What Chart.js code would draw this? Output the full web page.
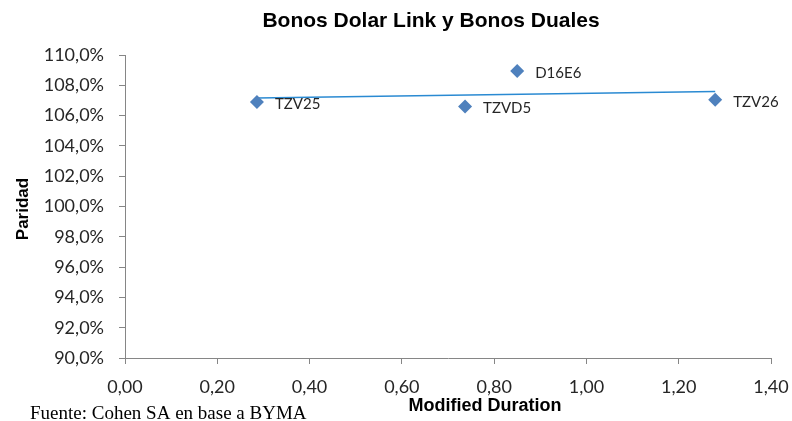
<!DOCTYPE html>
<html>
<head>
<meta charset="utf-8">
<script src="https://cdn.jsdelivr.net/npm/chart.js@4.4.1/dist/chart.umd.min.js"></script>
<style>
  html, body { margin: 0; padding: 0; background: #fff; }
  #wrap { width: 792px; height: 421px; position: relative; }
</style>
</head>
<body>
<div id="wrap"><canvas id="bondChart"></canvas></div>
<script>
// Bond data
const bondNames = ['TZV25', 'TZVD5', 'D16E6', 'TZV26'];
const modDuration = [0.286, 0.737, 0.85, 1.279];
const paridad = [106.9, 106.6, 108.95, 107.05];

const chartTitle = 'Bonos Dolar Link y Bonos Duales';
const xTitle = 'Modified Duration';
const yTitle = 'Paridad';
const sourceNote = 'Fuente: Cohen SA en base a BYMA';

// Linear trendline (least squares) over the points
function linearFit(xs, ys) {
  const n = xs.length;
  const mx = xs.reduce((a, b) => a + b, 0) / n;
  const my = ys.reduce((a, b) => a + b, 0) / n;
  let num = 0, den = 0;
  for (let i = 0; i < n; i++) {
    num += (xs[i] - mx) * (ys[i] - my);
    den += (xs[i] - mx) * (xs[i] - mx);
  }
  const slope = num / den;
  return x => my + slope * (x - mx);
}
const fit = linearFit(modDuration, paridad);
const xMin = Math.min(...modDuration);
const xMax = Math.max(...modDuration);
const trendPoints = [{ x: xMin, y: fit(xMin) }, { x: xMax, y: fit(xMax) }];

const points = modDuration.map((x, i) => ({ x, y: paridad[i] }));

const AXIS_COLOR = '#868686';
const TEXT_COLOR = '#262626';

// Point labels and the free texts (title, axis titles, source)
const textPlugin = {
  id: 'texts',
  afterDatasetsDraw(chart) {
    const ctx = chart.ctx;
    const meta = chart.getDatasetMeta(1);
    ctx.save();
    ctx.fillStyle = TEXT_COLOR;
    ctx.font = '15px Lato, "Open Sans", sans-serif';
    ctx.textAlign = 'left';
    ctx.textBaseline = 'middle';
    meta.data.forEach((el, i) => {
      ctx.fillText(bondNames[i], el.x + 18, el.y + 2);
    });

    ctx.textAlign = 'center';
    ctx.font = 'bold 21px "Liberation Sans", Arial, sans-serif';
    ctx.fillStyle = '#000';
    ctx.fillText(chartTitle, 431, 21);

    ctx.font = 'bold 18px "Liberation Sans", Arial, sans-serif';
    ctx.fillText(xTitle, 485, 406);

    ctx.save();
    ctx.translate(23, 209);
    ctx.rotate(-Math.PI / 2);
    ctx.font = 'bold 17px "Liberation Sans", Arial, sans-serif';
    ctx.fillText(yTitle, 0, 0);
    ctx.restore();

    ctx.textAlign = 'left';
    ctx.textBaseline = 'alphabetic';
    ctx.font = '19px "Liberation Serif", "Times New Roman", serif';
    ctx.fillText(sourceNote, 30, 419);
    ctx.restore();
  }
};

const ctx = document.getElementById('bondChart').getContext('2d');
new Chart(ctx, {
  type: 'scatter',
  data: {
    datasets: [
      {
        type: 'line',
        label: 'Tendencia',
        data: trendPoints,
        borderColor: '#2A8AD2',
        borderWidth: 1.5,
        pointRadius: 0,
        fill: false,
        order: 2
      },
      {
        label: 'Bonos',
        data: points,
        pointStyle: 'rectRot',
        pointRadius: 7,
        backgroundColor: '#4F81BD',
        borderColor: '#4F81BD',
        borderWidth: 0,
        order: 1
      }
    ]
  },
  options: {
    responsive: true,
    maintainAspectRatio: false,
    animation: false,
    layout: { padding: { top: 55, right: 21, bottom: 0, left: 0 } },
    plugins: {
      legend: { display: false },
      tooltip: { enabled: false }
    },
    scales: {
      x: {
        type: 'linear',
        min: 0,
        max: 1.4,
        ticks: {
          stepSize: 0.2,
          color: TEXT_COLOR,
          font: { family: 'Lato, "Open Sans", sans-serif', size: 18 },
          padding: 12,
          callback: v => v.toFixed(2).replace('.', ',')
        },
        grid: { drawOnChartArea: false, drawTicks: true, tickLength: 6, color: AXIS_COLOR },
        border: { color: AXIS_COLOR },
        afterFit: scale => {
          scale.height = 421 - 358;
          scale.paddingLeft = 0;
          scale.paddingRight = 0;
        }
      },
      y: {
        min: 90,
        max: 110,
        ticks: {
          stepSize: 2,
          color: TEXT_COLOR,
          font: { family: 'Lato, "Open Sans", sans-serif', size: 18 },
          padding: 15,
          callback: v => v.toFixed(1).replace('.', ',') + '%'
        },
        grid: { drawOnChartArea: false, drawTicks: true, tickLength: 6, color: AXIS_COLOR },
        border: { color: AXIS_COLOR },
        afterFit: scale => {
          scale.width = 125;
          scale.paddingTop = 0;
          scale.paddingBottom = 0;
        }
      }
    }
  },
  plugins: [textPlugin]
});
</script>
</body>
</html>
